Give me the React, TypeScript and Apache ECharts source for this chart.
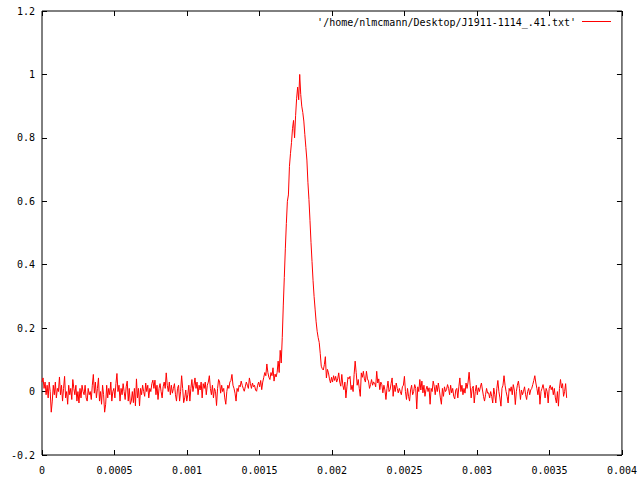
import React, { useEffect, useRef } from "react";
import * as echarts from "echarts";

// Pulse period (s) spanned by the profile bins
const PERIOD = 0.0036257;

// Normalised intensity, bins 0-231 (off-pulse, before the peak)
const preFlux = [
  0.030, 0.043, 0.010, 0.030, -0.010, 0.020, -0.020, 0.030, 0.000, -0.065,
  -0.030, 0.020, -0.010, 0.030, -0.020, 0.010, 0.000, 0.046, -0.010, 0.020,
  -0.030, 0.010, 0.048, -0.020, 0.000, -0.040, 0.020, -0.010, 0.010, -0.025,
  0.038, 0.010, -0.010, 0.020, -0.030, 0.000, -0.036, 0.010, -0.020, 0.020,
  0.000, -0.010, 0.020, -0.020, -0.030, 0.010, -0.010, 0.000, -0.025, 0.020,
  0.054, -0.005, 0.030, -0.020, 0.010, 0.043, -0.030, 0.000, -0.040, 0.020,
  -0.010, -0.065, -0.040, 0.020, -0.020, 0.010, -0.010, 0.030, -0.030, 0.000,
  0.010, -0.020, 0.025, 0.057, 0.000, 0.020, -0.030, 0.010, -0.010, 0.025,
  0.000, -0.025, 0.015, 0.033, -0.030, 0.010, -0.040, -0.030, 0.000, -0.035,
  0.010, -0.045, 0.040, -0.020, 0.010, -0.045, 0.010, -0.010, 0.020, 0.000,
  -0.015, 0.027, 0.000, 0.020, -0.020, 0.010, 0.000, 0.025, 0.036, 0.010,
  0.036, -0.010, 0.020, -0.025, 0.010, 0.025, 0.000, -0.020, 0.015, 0.030,
  0.010, 0.059, 0.020, 0.000, 0.030, -0.010, 0.020, -0.005, 0.010, 0.025,
  -0.010, -0.030, 0.010, 0.020, -0.030, 0.000, 0.050, 0.010, -0.035, -0.020,
  0.005, -0.030, -0.010, 0.020, -0.030, 0.010, 0.038, 0.000, 0.020, 0.043,
  0.010, 0.030, -0.010, 0.020, 0.005, 0.030, -0.020, 0.025, 0.010, 0.030,
  -0.010, 0.020, 0.030, 0.050, 0.010, -0.010, 0.020, -0.020, 0.010, 0.000,
  -0.044, 0.010, 0.038, 0.030, -0.005, 0.020, 0.000, 0.010, -0.020, -0.040,
  0.000, 0.020, 0.010, 0.030, 0.035, 0.054, 0.020, 0.010, -0.005, -0.030,
  0.010, 0.000, 0.020, 0.015, 0.033, 0.020, 0.010, 0.001, 0.015, 0.030,
  0.020, 0.010, 0.043, 0.025, 0.010, 0.027, 0.015, 0.020, 0.005, 0.001,
  0.020, 0.030, 0.015, 0.035, 0.006, 0.030, 0.045, 0.060, 0.050, 0.087,
  0.060, 0.045, 0.038, 0.060, 0.050, 0.075, 0.033, 0.055, 0.046, 0.060,
  0.096, 0.060,
];

// Bins 232-271 (the pulse)
const pulseFlux = [
  0.13, 0.09, 0.17, 0.27, 0.36, 0.45, 0.53, 0.60, 0.62, 0.71,
  0.75, 0.785, 0.83, 0.855, 0.80, 0.87, 0.925, 0.96, 0.92, 1.0,
  0.937, 0.90, 0.88, 0.853, 0.81, 0.77, 0.73, 0.66, 0.606, 0.54,
  0.47, 0.41, 0.35, 0.30, 0.26, 0.22, 0.19, 0.17, 0.155, 0.12,
];

// Bins 272-511 (off-pulse, after the peak)
const postFlux = [
  0.080, 0.072, 0.068, 0.085, 0.110, 0.043, 0.070, 0.059, 0.040, 0.027,
  0.045, 0.030, 0.050, 0.035, 0.048, 0.030, 0.040, 0.059, 0.030, 0.017,
  0.054, 0.020, 0.006, 0.030, -0.020, 0.015, 0.045, 0.040, 0.048, 0.006,
  0.020, 0.000, 0.054, 0.096, 0.060, 0.020, 0.038, 0.010, -0.015, 0.059,
  0.045, 0.064, 0.040, 0.030, 0.064, 0.040, 0.033, 0.010, 0.022, 0.038,
  0.020, 0.030, 0.027, 0.015, 0.064, 0.027, 0.040, 0.006, 0.030, 0.022,
  -0.004, 0.020, 0.005, -0.025, 0.010, 0.033, 0.000, 0.006, 0.025, 0.043,
  -0.015, 0.020, 0.000, 0.027, 0.010, -0.004, 0.010, 0.000, -0.010, 0.015,
  0.020, 0.048, 0.000, -0.025, 0.010, -0.015, -0.030, 0.005, 0.020, -0.010,
  0.000, 0.022, 0.010, -0.055, 0.015, 0.000, 0.038, 0.005, 0.033, -0.004,
  0.020, -0.015, 0.006, 0.017, 0.000, 0.012, -0.040, 0.010, 0.000, 0.033,
  0.017, -0.010, 0.020, 0.000, 0.027, 0.005, -0.020, -0.040, 0.010, -0.015,
  0.015, 0.000, 0.006, 0.022, 0.010, -0.010, 0.020, -0.004, 0.010, -0.015,
  -0.023, 0.005, 0.010, -0.020, 0.015, 0.043, 0.000, 0.020, -0.010, 0.010,
  -0.005, 0.027, 0.010, 0.030, 0.061, 0.020, -0.020, 0.010, 0.017, -0.036,
  0.000, 0.020, -0.010, 0.012, 0.000, 0.015, 0.027, 0.005, -0.015, -0.030,
  -0.010, 0.010, -0.005, -0.004, -0.020, 0.000, -0.015, -0.036, 0.011, -0.010,
  -0.036, 0.010, 0.035, 0.000, -0.020, -0.046, 0.010, 0.020, 0.050, 0.020,
  0.000, -0.015, -0.036, 0.010, 0.001, 0.015, -0.010, 0.022, 0.005, -0.041,
  0.000, 0.020, 0.033, 0.010, -0.025, 0.005, -0.010, 0.001, 0.015, -0.010,
  -0.025, 0.000, 0.010, -0.010, 0.005, 0.010, 0.022, 0.035, 0.050, 0.027,
  0.010, -0.010, 0.015, -0.040, 0.000, 0.010, 0.022, 0.005, -0.020, 0.010,
  0.000, -0.036, 0.010, 0.020, 0.006, 0.015, -0.010, 0.010, -0.020, -0.036,
  0.000, -0.046, 0.010, 0.038, 0.011, 0.025, -0.015, 0.000, 0.025, -0.020,
];

const xRange = [0, 0.004];
const xStep = 0.0005;
const yRange = [-0.2, 1.2];
const yStep = 0.2;
const legendLabel = "'/home/nlmcmann/Desktop/J1911-1114_.41.txt'";

const FONT = "DejaVu Sans Mono";

export default function App() {
  const ref = useRef<HTMLDivElement>(null);

  useEffect(() => {
    if (!ref.current) return;
    const chart = echarts.init(ref.current, null, { renderer: "svg" });
    const flux = [...preFlux, ...pulseFlux, ...postFlux];
    const n = flux.length;
    const data = flux.map((v, i) => [(i * PERIOD) / n, v]);
    const fmt = (v: number) => String(parseFloat(v.toFixed(6)));

    const common = {
      type: "value" as const,
      splitLine: { show: false },
      axisLine: { show: false, onZero: false },
      axisTick: { show: true, inside: true, length: 5, lineStyle: { color: "#000", width: 1 } },
    };

    chart.setOption({
      animation: false,
      backgroundColor: "#fff",
      grid: {
        left: 42,
        top: 11,
        right: 18,
        bottom: 25,
        show: true,
        borderColor: "#000",
        borderWidth: 1,
        backgroundColor: "transparent",
      },
      xAxis: [
        {
          ...common,
          min: xRange[0],
          max: xRange[1],
          interval: xStep,
          position: "bottom",
          axisLabel: {
            show: true,
            color: "#000",
            fontFamily: FONT,
            fontSize: 10,
            margin: 10,
            formatter: fmt,
          },
        },
        {
          ...common,
          min: xRange[0],
          max: xRange[1],
          interval: xStep,
          position: "top",
          axisLabel: { show: false },
        },
      ],
      yAxis: [
        {
          ...common,
          min: yRange[0],
          max: yRange[1],
          interval: yStep,
          position: "left",
          axisLabel: {
            show: true,
            color: "#000",
            fontFamily: FONT,
            fontSize: 10,
            margin: 7,
            formatter: fmt,
          },
        },
        {
          ...common,
          min: yRange[0],
          max: yRange[1],
          interval: yStep,
          position: "right",
          axisLabel: { show: false },
        },
      ],
      series: [
        {
          name: legendLabel,
          type: "line",
          xAxisIndex: 0,
          yAxisIndex: 0,
          data,
          showSymbol: false,
          symbol: "none",
          lineStyle: { color: "#ff0000", width: 1 },
          itemStyle: { color: "#ff0000" },
        },
      ],
      graphic: [
        {
          type: "text",
          left: undefined,
          x: 576,
          y: 22,
          style: {
            text: legendLabel,
            fill: "#000",
            font: `10px "${FONT}"`,
            textAlign: "right",
            textVerticalAlign: "middle",
          },
        },
        {
          type: "line",
          shape: { x1: 582, y1: 21.5, x2: 611, y2: 21.5 },
          style: { stroke: "#ff0000", lineWidth: 1 },
        },
      ],
    });

    return () => chart.dispose();
  }, []);

  return (
    <div
      ref={ref}
      style={{ position: "fixed", left: 0, top: 0, width: 640, height: 480, background: "#fff" }}
    />
  );
}
